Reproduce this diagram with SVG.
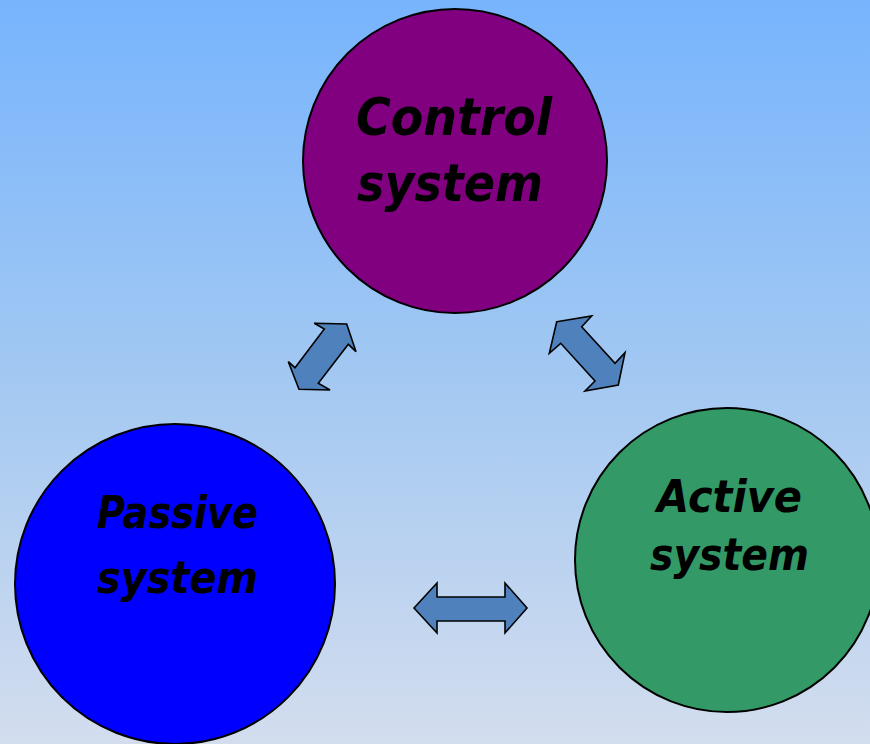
<svg xmlns="http://www.w3.org/2000/svg" width="870" height="744" viewBox="0 0 870 744">
  <defs>
    <linearGradient id="sky" x1="0" y1="0" x2="0" y2="1">
      <stop offset="0" stop-color="#77B4FD"/>
      <stop offset="0.5" stop-color="#A2C8F2"/>
      <stop offset="1" stop-color="#D3DDEE"/>
    </linearGradient>
  </defs>
  <style>
    .node { stroke: #000; stroke-width: 2; }
    .label { font-family: "Comic Sans MS", "DejaVu Sans", "Liberation Sans", sans-serif; font-weight: bold; font-style: italic; fill: #000; }
    .big { font-size: 52px; }
    .small { font-size: 45px; }
    .arrow { fill: #4F81BD; stroke: #000; stroke-width: 1.6; stroke-linejoin: miter; }
  </style>

  <!-- background -->
  <rect x="0" y="0" width="870" height="744" fill="url(#sky)"/>

  <!-- nodes -->
  <g id="control-system">
    <circle class="node" cx="455" cy="161" r="152" fill="#800080"/>
    <text class="label big" x="356" y="135" textLength="196" lengthAdjust="spacingAndGlyphs">Control</text>
    <text class="label big" x="357" y="201" textLength="186" lengthAdjust="spacingAndGlyphs">system</text>
  </g>

  <g id="passive-system">
    <circle class="node" cx="175" cy="584" r="160" fill="#0000FF"/>
    <text class="label small" x="97" y="528" textLength="161" lengthAdjust="spacingAndGlyphs">Passive</text>
    <text class="label small" x="97" y="593" textLength="161" lengthAdjust="spacingAndGlyphs">system</text>
  </g>

  <g id="active-system">
    <circle class="node" cx="727" cy="560" r="152" fill="#339966"/>
    <text class="label small" x="657" y="512" textLength="145" lengthAdjust="spacingAndGlyphs">Active</text>
    <text class="label small" x="650" y="570" textLength="159" lengthAdjust="spacingAndGlyphs">system</text>
  </g>

  <!-- connectors: double-headed block arrows -->
  <g id="connectors">
    <polygon class="arrow" points="314.3,323.3 346.7,324 356,351.7 348.3,344.3 318.3,383.3 330,390 299,389.3 288.3,361.7 295,367.7 324.3,329"/>
    <polygon class="arrow" points="556.7,321.7 591.7,316 581.7,326.7 615,363.3 625,352.7 618.3,385 585,391 595,381 560.7,343.3 549.3,353.3"/>
    <polygon class="arrow" points="414,608 437,583 437,597 505,597 505,583 527,608 505,633 505,621 437,621 437,633"/>
  </g>
</svg>
